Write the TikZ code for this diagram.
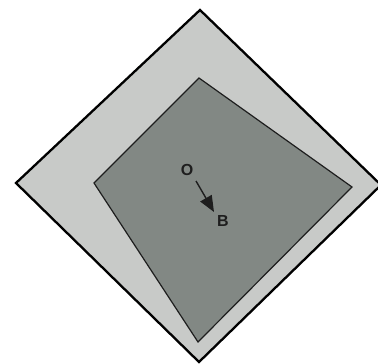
\documentclass[tikz,border=0pt]{standalone}
\usepackage{fontspec}
\setmainfont{Liberation Sans}
\usetikzlibrary{arrows.meta}
\definecolor{outerfill}{RGB}{200,202,200}
\definecolor{innerfill}{RGB}{130,136,132}
\definecolor{inkc}{RGB}{30,30,30}
\tikzset{
  outerbox/.style={draw=black, line width=2.3pt, fill=outerfill, line join=miter},
  innerbox/.style={draw=inkc, line width=1.2pt, fill=innerfill, line join=miter},
  lbl/.style={font=\bfseries\fontsize{16}{16}\selectfont, text=inkc, inner sep=0pt},
  vec/.style={draw=inkc, line width=1.4pt, -{Triangle[length=16pt,width=13pt]}}
}
\begin{document}
\begin{tikzpicture}[x=1pt,y=-1pt]
\useasboundingbox (0,0) rectangle (378,364);
\coordinate (ot) at (200,10);
\coordinate (or) at (381,185);
\coordinate (ob) at (199,362);
\coordinate (ol) at (16,183);
\draw[outerbox] (ot) -- (or) -- (ob) -- (ol) -- cycle;
\coordinate (it) at (199,78);
\coordinate (ir) at (352,187);
\coordinate (ib) at (198,342);
\coordinate (il) at (94,183);
\draw[innerbox] (it) -- (ir) -- (ib) -- (il) -- cycle;
\node[lbl] (O) at (187,170) {O};
\node[lbl] (B) at (223,221) {B};
\coordinate (vs) at (196,181);
\coordinate (ve) at (214,212);
\draw[vec] (vs) -- (ve);
\end{tikzpicture}
\end{document}
